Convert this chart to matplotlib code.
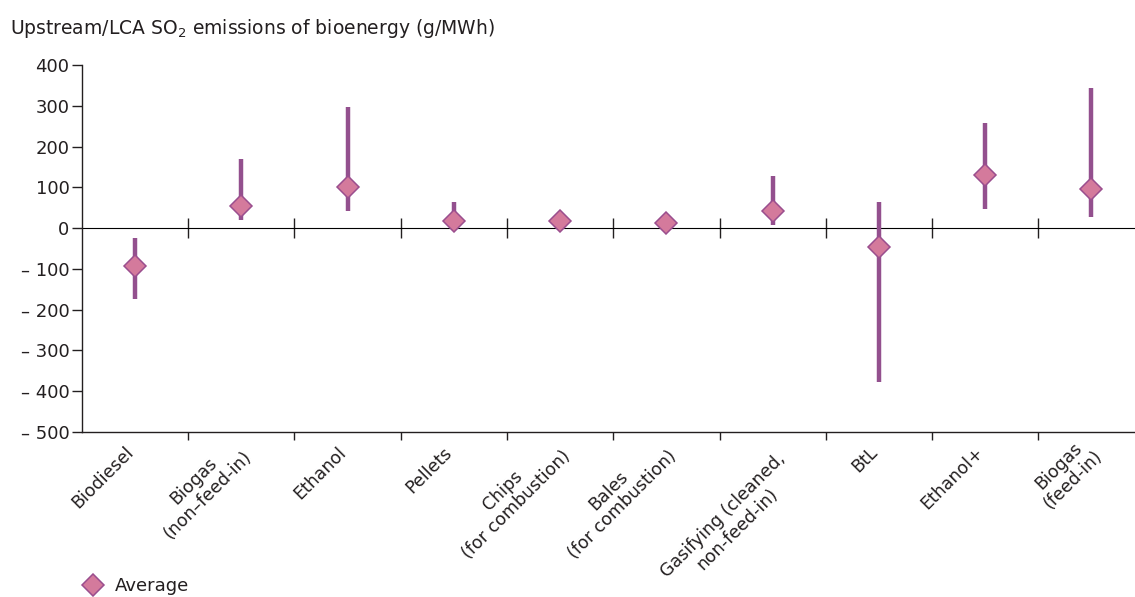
import matplotlib
matplotlib.use("Agg")
import matplotlib.pyplot as plt
from matplotlib.lines import Line2D
from matplotlib.transforms import ScaledTranslation
import numpy as np

categories = ["Biodiesel", "Biogas\n(non\u2013feed-in)", "Ethanol", "Pellets",
              "Chips\n(for combustion)", "Bales\n(for combustion)",
              "Gasifying (cleaned,\nnon-feed-in)", "BtL", "Ethanol+",
              "Biogas\n(feed-in)"]
average = [-92, 55, 101, 17, 18, 13, 42, -47, 131, 97]
low = [-174, 21, 42, 20, 18, 13, 7, -377, 46, 28]
high = [-24, 169, 297, 64, 18, 13, 127, 64, 258, 343]

yticks = [400, 300, 200, 100, 0, -100, -200, -300, -400, -500]
ytick_labels = ["400", "300", "200", "100", "0", "\u2013 100", "\u2013 200",
                "\u2013 300", "\u2013 400", "\u2013 500"]

txt = "#231f20"
line_col = "#93508e"
fill_col = "#d47a9c"
edge_col = "#9a4e8e"

plt.rcParams["font.family"] = ["DejaVu Sans"]
plt.rcParams["font.size"] = 13
plt.rcParams["text.color"] = txt

fig = plt.figure(figsize=(11.35, 5.97), dpi=100)
ax = fig.add_axes([0.0722, 0.2764, 0.9278, 0.6147])

x = np.arange(len(categories))
ax.vlines(x, low, high, color=line_col, lw=3.2, zorder=2)
ax.plot(x, average, ls="none", marker="D", ms=11.5, mfc=fill_col, mec=edge_col,
        mew=1.1, zorder=3)

ylo, yhi = -500, 400
ax.set_ylim(ylo, yhi)
ax.set_xlim(-0.5, 9.41)
ax.set_yticks(yticks)
ax.set_yticklabels(ytick_labels)
ax.tick_params(axis="y", direction="out", length=7, width=1, colors=txt,
               labelsize=13, pad=2)

bounds = np.arange(0.5, len(categories) - 1, 1.0)
ax.set_xticks(bounds)
ax.set_xticklabels([])
ax.tick_params(axis="x", which="major", direction="out", length=6, width=1,
               color=txt)

# category labels, rotated; the end of the longest line sits near the centre
line_h = 0.233  # inches between lines, roughly
for xi, lab in zip(x, categories):
    lines = lab.split("\n")
    k = int(np.argmax([len(s) for s in lines]))
    n_after = len(lines) - 1 - k
    dx, dy = 0.02, -0.24
    if len(lines) > 1:
        dx, dy = dx + 0.12, dy - 0.04
    dx += n_after * line_h * 0.707
    dy -= n_after * line_h * 0.707
    off = ScaledTranslation(dx, dy, fig.dpi_scale_trans)
    ax.text(xi, 0, lab, transform=ax.get_xaxis_transform() + off,
            rotation=45, ha="right", va="bottom", rotation_mode="anchor",
            multialignment="center", fontsize=12.5, linespacing=1.15)

for s in ["top", "right"]:
    ax.spines[s].set_visible(False)
for s in ["left", "bottom"]:
    ax.spines[s].set_color(txt)
    ax.spines[s].set_linewidth(1)

# zero line with crossing ticks
zero_pos = (0 - ylo) / (yhi - ylo)
sec = ax.secondary_xaxis(zero_pos)
sec.set_xticks(bounds)
sec.set_xticklabels([])
sec.tick_params(direction="inout", length=15, width=1, color=txt)
sec.spines["bottom"].set_color(txt)
sec.spines["bottom"].set_linewidth(1)

fig.text(0.009, 0.953, "Upstream/LCA SO$_2$ emissions of bioenergy (g/MWh)",
         fontsize=13.5, va="center", ha="left")

handle = Line2D([], [], ls="none", marker="D", ms=11.5, mfc=fill_col,
                mec=edge_col, mew=1.1)
fig.legend([handle], ["Average"], loc="center left",
           bbox_to_anchor=(0.066, 0.0184), frameon=False, fontsize=13,
           handletextpad=0.6, borderaxespad=0, handlelength=1.2)

fig.savefig("out.png", dpi=100)
